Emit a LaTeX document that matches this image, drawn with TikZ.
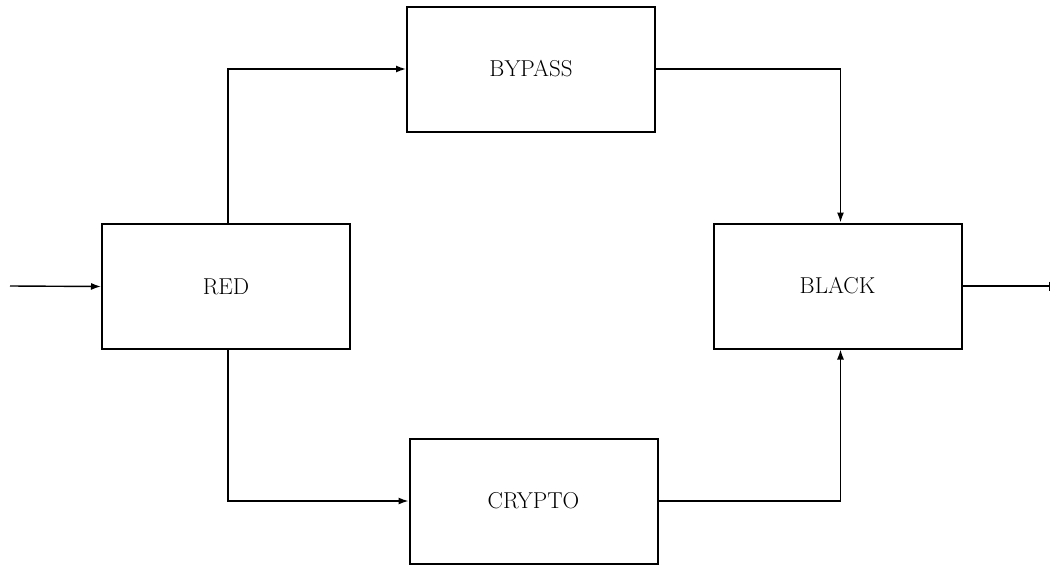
\documentclass[tikz,border=0pt]{standalone}
\usetikzlibrary{arrows.meta}
\begin{document}
\begin{tikzpicture}[x=1pt,y=-1pt,
  blk/.style={draw,line width=2pt,minimum width=248pt,minimum height=125pt,inner sep=0pt,font=\fontsize{23}{27}\selectfont},
  conn/.style={line width=1.4pt,-{Latex[length=10pt,width=7pt]}},
  plain/.style={line width=1.4pt}]
\useasboundingbox (0,0) rectangle (1052,565);
\node[blk] (red) at (226,286.5) {RED};
\node[blk] (bypass) at (531,69) {BYPASS};
\node[blk] (crypto) at (533.5,501) {CRYPTO};
\node[blk] (black) at (837.5,286) {BLACK};
\coordinate (in) at (10,286);
\coordinate (out) at (1050,286);
\draw[conn] (in) -- (red.west);
\draw[conn] (red.north) ++(2,0) |- (bypass.west);
\draw[conn] (red.south) ++(2,0) |- (crypto.west);
\draw[conn] (bypass.east) -| ([xshift=3pt]black.north);
\draw[conn] (crypto.east) -| ([xshift=3pt]black.south);
\draw[plain,-{Bar[width=9pt]}] (black.east) -- (out);
\end{tikzpicture}
\end{document}
